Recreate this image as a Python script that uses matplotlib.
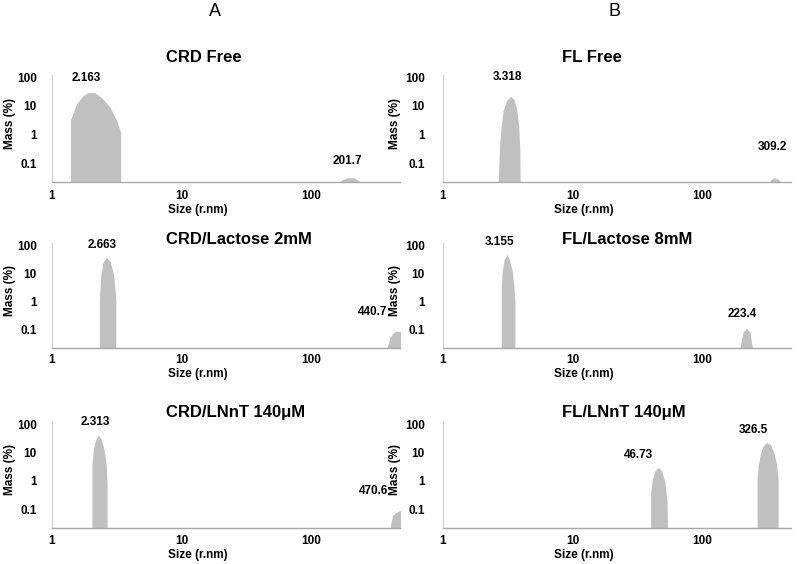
import matplotlib
matplotlib.use("Agg")
import matplotlib.pyplot as plt

plt.rcParams['font.family'] = ['Liberation Sans', 'DejaVu Sans']
plt.rcParams['font.weight'] = 'bold'

# --- data: (size r.nm, mass %) outline of each peak ---
crd_free_p1_size = [1.39, 1.55, 1.74, 1.90, 2.14, 2.41, 2.79, 3.15, 3.38]
crd_free_p1_mass = [3.3, 11.9, 23, 29, 29, 19.4, 9.1, 3.1, 1.2]
crd_free_p2_size = [156, 170, 190, 210, 230, 243]
crd_free_p2_mass = [0.015, 0.026, 0.031, 0.031, 0.025, 0.015]

fl_free_p1_size = [2.66, 2.71, 2.78, 2.91, 3.09, 3.32, 3.52, 3.69, 3.84, 3.91, 3.93]
fl_free_p1_mass = [0.015, 0.21, 1.38, 6.95, 15.6, 21.5, 16.5, 7.96, 1.8, 0.27, 0.015]
fl_free_p2_size = [316, 335, 358, 385, 412]
fl_free_p2_mass = [0.015, 0.027, 0.031, 0.027, 0.015]

crd_lac_p1_size = [2.32, 2.38, 2.47, 2.62, 2.81, 2.98, 3.07, 3.10]
crd_lac_p1_mass = [1.3, 9.1, 23.9, 38, 26, 9.1, 2.3, 1.0]
crd_lac_p2_size = [373, 400, 430, 451, 480, 510]
crd_lac_p2_mass = [0.015, 0.05, 0.08, 0.088, 0.085, 0.07]

fl_lac_p1_size = [2.81, 2.86, 2.96, 3.11, 3.25, 3.41, 3.52, 3.58]
fl_lac_p1_mass = [3.0, 12, 31, 47, 31, 12, 3.5, 1.0]
fl_lac_p2_size = [191, 205, 218, 232, 245]
fl_lac_p2_mass = [0.015, 0.08, 0.11, 0.08, 0.015]

crd_lnnt_p1_size = [2.03, 2.09, 2.19, 2.28, 2.39, 2.52, 2.62, 2.66]
crd_lnnt_p1_mass = [3.66, 14.7, 31.7, 42, 29, 12.7, 3.66, 0.53]
crd_lnnt_p2_size = [395, 420, 450, 480, 510]
crd_lnnt_p2_mass = [0.015, 0.06, 0.08, 0.09, 0.08]

fl_lnnt_p1_size = [39.8, 41, 43, 45.6, 48.4, 51.3, 53.1, 53.8]
fl_lnnt_p1_mass = [0.38, 1.15, 2.29, 3.03, 2.29, 0.88, 0.22, 0.015]
fl_lnnt_p2_size = [263, 268, 279, 292, 311, 333, 353, 371, 382]
fl_lnnt_p2_mass = [1.15, 3.46, 9.1, 16.7, 22.7, 19.2, 10.5, 4.0, 1.15]

titles = ["CRD Free", "FL Free", "CRD/Lactose 2mM", "FL/Lactose 8mM",
          "CRD/LNnT 140μM", "FL/LNnT 140μM"]
peak_labels = [["2.163", "201.7"], ["3.318", "309.2"],
               ["2.663", "440.7"], ["3.155", "223.4"],
               ["2.313", "470.6"], ["46.73", "326.5"]]
xticks = [1, 10, 100]
xtick_labels = ["1", "10", "100"]
yticks = [0.1, 1, 10, 100]
ytick_labels = ["0.1", "1", "10", "100"]

peaks = [
    [(crd_free_p1_size, crd_free_p1_mass), (crd_free_p2_size, crd_free_p2_mass)],
    [(fl_free_p1_size, fl_free_p1_mass), (fl_free_p2_size, fl_free_p2_mass)],
    [(crd_lac_p1_size, crd_lac_p1_mass), (crd_lac_p2_size, crd_lac_p2_mass)],
    [(fl_lac_p1_size, fl_lac_p1_mass), (fl_lac_p2_size, fl_lac_p2_mass)],
    [(crd_lnnt_p1_size, crd_lnnt_p1_mass), (crd_lnnt_p2_size, crd_lnnt_p2_mass)],
    [(fl_lnnt_p1_size, fl_lnnt_p1_mass), (fl_lnnt_p2_size, fl_lnnt_p2_mass)],
]

# label offsets from the peak top, in pixels (x right, y up)
label_offsets = [[(-2, 9), (0, 11)], [(-3, 13), (-2, 25)],
                 [(-4, 6), (-24, 13)], [(-7, 6), (-4, 8)],
                 [(-3, 7), (-27, 14)], [(-20, 6), (-13, 7)]]

W, H = 797, 564
XMAX = 480

def rect(l, t, r, b):
    return [l / W, 1 - b / H, (r - l) / W, (b - t) / H]

cols = [(52, 400), (443, 791)]
rows = [(75, 182), (243, 348), (422, 528)]
xtick_pad = [5.5, 4.0, 5.0]
xlabel_y = [210, 374, 555]
title_x = [166, 562]
title_y = [58, 240, 413]
ylab_x = [10, 395]
ytick_pad = [11, 13]

fig = plt.figure(figsize=(W / 100, H / 100), dpi=100)
fill_col = "#C0C0C0"

for i in range(6):
    r, c = i // 2, i % 2
    l, rr = cols[c]
    t, b = rows[r]
    ax = fig.add_axes(rect(l, t, rr, b))
    ax.set_xscale("log")
    ax.set_yscale("log")
    ax.set_xlim(1, XMAX)
    ax.set_ylim(0.022, 120)

    for j, (sx, my) in enumerate(peaks[i]):
        ax.fill_between(sx, my, 1e-3, color=fill_col, linewidth=0)
        vis = [k for k in range(len(sx)) if sx[k] <= XMAX]
        k = max(vis, key=lambda q: my[q])
        dx, dy = label_offsets[i][j]
        ax.annotate(peak_labels[i][j], (sx[k], my[k]), xytext=(dx, dy),
                    textcoords="offset pixels", ha="center", va="bottom",
                    fontsize=8.5, fontweight="bold", annotation_clip=False)

    ax.set_xticks(xticks)
    ax.set_xticklabels(xtick_labels)
    ax.set_yticks(yticks)
    ax.set_yticklabels(ytick_labels)
    ax.minorticks_off()
    ax.tick_params(axis="x", length=0, pad=xtick_pad[r], labelsize=8.5)
    ax.tick_params(axis="y", length=0, pad=ytick_pad[c], labelsize=8.5)
    for s in ["top", "right"]:
        ax.spines[s].set_visible(False)
    ax.spines["left"].set_color("#d4d4d4")
    ax.spines["bottom"].set_color("#a8a8a8")
    ax.spines["left"].set_linewidth(1.0)
    ax.spines["bottom"].set_linewidth(1.0)

    ax.set_xlabel("Size (r.nm)", fontsize=8.5, fontweight="bold")
    ax.xaxis.label.set_va("center")
    xl_center = 198 if c == 0 else 584
    ax.xaxis.set_label_coords((xl_center - l) / (rr - l), (b - xlabel_y[r]) / (b - t))
    ax.set_ylabel("Mass (%)", fontsize=8.5, fontweight="bold")
    ax.yaxis.label.set_va("center")
    ax.yaxis.set_label_coords((ylab_x[c] - l) / (rr - l), 0.55)

    fig.text(title_x[c] / W, 1 - title_y[r] / H, titles[i], ha="left", va="center",
             fontsize=12, fontweight="bold")

fig.text(215 / W, 1 - 12 / H, "A", ha="center", va="center", fontsize=13, fontweight="normal")
fig.text(615 / W, 1 - 12 / H, "B", ha="center", va="center", fontsize=13, fontweight="normal")

fig.savefig("out.png", dpi=100)
